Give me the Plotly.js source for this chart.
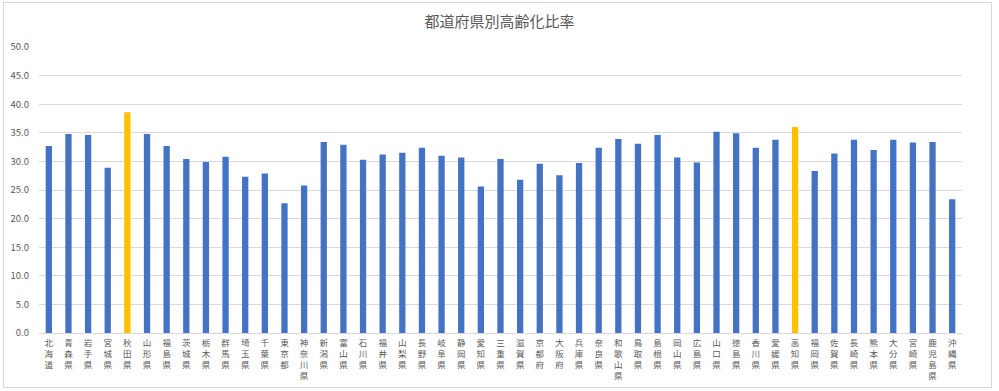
<!DOCTYPE html>
<html>
<head>
<meta charset="utf-8">
<script src="https://cdn.plot.ly/plotly-3.0.1.min.js"></script>
<style>
  html, body { margin: 0; padding: 0; background: #fff; }
  #wrap { position: relative; width: 999px; height: 391px; }
  #chart { width: 999px; height: 391px; }
  #frame { position: absolute; left: 3px; top: 2px; width: 987px; height: 384px; border: 1px solid #d9d9d9; pointer-events: none; }
</style>
</head>
<body>
<div id="wrap"><div id="chart"></div><div id="frame"></div></div>
<script>
const prefectures = ["北海道","青森県","岩手県","宮城県","秋田県","山形県","福島県","茨城県","栃木県","群馬県",
  "埼玉県","千葉県","東京都","神奈川県","新潟県","富山県","石川県","福井県","山梨県","長野県",
  "岐阜県","静岡県","愛知県","三重県","滋賀県","京都府","大阪府","兵庫県","奈良県","和歌山県",
  "鳥取県","島根県","岡山県","広島県","山口県","徳島県","香川県","愛媛県","高知県","福岡県",
  "佐賀県","長崎県","熊本県","大分県","宮崎県","鹿児島県","沖縄県"];
const agingRate = [32.7,34.8,34.6,28.9,38.6,34.8,32.7,30.4,29.9,30.8,
  27.3,27.9,22.7,25.8,33.4,32.9,30.3,31.2,31.5,32.4,
  31.0,30.7,25.6,30.4,26.8,29.6,27.6,29.7,32.4,33.9,
  33.1,34.6,30.7,29.8,35.2,34.9,32.4,33.8,36.0,28.3,
  31.4,33.8,32.0,33.8,33.3,33.4,23.4];
const highlighted = ["秋田県","高知県"];
const yTicks = [0,5,10,15,20,25,30,35,40,45,50];

const labels = prefectures.map(p => p.split("").join("<br>"));
const colors = prefectures.map(p => highlighted.includes(p) ? "#FFC000" : "#4472C4");

const font = "'Noto Sans CJK JP', 'Noto Sans', sans-serif";
Plotly.newPlot("chart", [{
  type: "bar",
  x: labels,
  y: agingRate,
  marker: { color: colors },
  hoverinfo: "x+y"
}], {
  width: 999, height: 391,
  margin: { l: 39, r: 37, t: 47, b: 58 },
  paper_bgcolor: "#fff", plot_bgcolor: "#fff",
  bargap: 0.68,
  showlegend: false,
  title: { text: "都道府県別高齢化比率", font: { family: font, size: 15, color: "#595959" }, x: 0.5, xanchor: "center", y: 0.944, yanchor: "middle" },
  xaxis: {
    type: "category",
    tickfont: { family: font, size: 8.5, color: "#595959" },
    tickangle: 0,
    showline: true, linecolor: "#d9d9d9", linewidth: 1,
    ticks: "", showgrid: false,
    ticklabelstandoff: 2
  },
  yaxis: {
    range: [0, 50],
    tickvals: yTicks,
    tickformat: ".1f",
    tickfont: { family: font, size: 9.5, color: "#595959" },
    showgrid: true, gridcolor: "#d9d9d9", gridwidth: 1,
    zeroline: false, showline: false, ticks: "",
    ticklabelstandoff: 9
  }
}, { displayModeBar: false, staticPlot: true });
</script>
</body>
</html>
